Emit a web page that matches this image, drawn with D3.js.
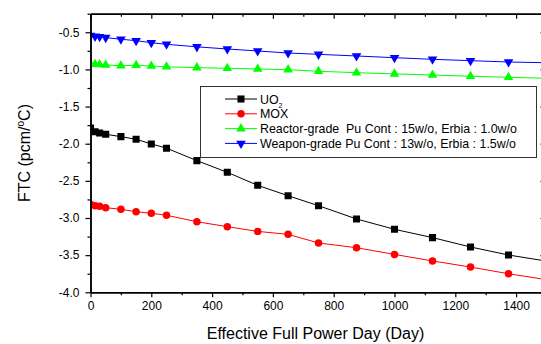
<!DOCTYPE html>
<html>
<head>
<meta charset="utf-8">
<script src="https://cdn.jsdelivr.net/npm/d3@7"></script>
<style>
  body { margin: 0; background: #fff; }
  svg text { font-family: Arial, "Liberation Sans", sans-serif; fill: #000; white-space: pre; }
</style>
</head>
<body>
<svg id="chart" width="541" height="344"></svg>
<script>
// burnup steps (EFPD)
var days = [0, 15, 30, 50, 100, 150, 200, 250, 350, 450, 550, 650, 750, 875, 1000, 1125, 1250, 1375, 1500];

var uo2 = [-1.79, -1.84, -1.855, -1.873, -1.905, -1.94, -2.003, -2.06, -2.228, -2.385, -2.56, -2.70,
           -2.834, -3.013, -3.152, -3.264, -3.39, -3.498, -3.58];
var mox = [-2.815, -2.834, -2.842, -2.861, -2.883, -2.915, -2.937, -2.963, -3.05, -3.117, -3.18, -3.22,
           -3.336, -3.40, -3.49, -3.578, -3.66, -3.75, -3.83];
var reactorGrade = [-0.93, -0.93, -0.935, -0.94, -0.95, -0.945, -0.955, -0.965, -0.976, -0.985, -0.994, -1.003,
                    -1.025, -1.044, -1.06, -1.075, -1.092, -1.106, -1.12];
var weaponGrade = [-0.545, -0.555, -0.56, -0.572, -0.594, -0.613, -0.64, -0.662, -0.696, -0.725, -0.752, -0.779,
                   -0.797, -0.819, -0.842, -0.864, -0.882, -0.90, -0.91];

var xTicks = [0, 200, 400, 600, 800, 1000, 1200, 1400];
var xMinor = [100, 300, 500, 700, 900, 1100, 1300, 1500];
var yTicks = [-0.5, -1.0, -1.5, -2.0, -2.5, -3.0, -3.5, -4.0];
var yMinor = [-0.25, -0.75, -1.25, -1.75, -2.25, -2.75, -3.25, -3.75];

var series = [
  { name: "UO2", values: uo2, color: "#000000", symbol: d3.symbolSquare, size: 50 },
  { name: "MOX", values: mox, color: "#ff0000", symbol: d3.symbolCircle, size: 44 },
  { name: "Reactor-grade  Pu Cont : 15w/o, Erbia : 1.0w/o", values: reactorGrade, color: "#00ff00", symbol: d3.symbolTriangle, size: 40, flip: false },
  { name: "Weapon-grade Pu Cont : 13w/o, Erbia : 1.5w/o", values: weaponGrade, color: "#0000ff", symbol: d3.symbolTriangle, size: 40, flip: true }
];

var svg = d3.select("#chart");

var pLeft = 90.5, pRight = 546.5, pTop = 13.7, pBottom = 292.3;

var x = d3.scaleLinear().domain([0, 1500]).range([pLeft, pRight]);
var y = d3.scaleLinear().domain([-4.0, -0.25]).range([pBottom, pTop]);

function fmtY(d) { return d.toFixed(1); }

// clip for plot area
svg.append("clipPath").attr("id", "plot")
  .append("rect").attr("x", pLeft).attr("y", pTop).attr("width", pRight - pLeft).attr("height", pBottom - pTop);

// series lines + markers
var line = d3.line()
  .x(function (d) { return x(d[0]); })
  .y(function (d) { return y(d[1]); });

series.forEach(function (s) {
  var pts = days.map(function (d, i) { return [d, s.values[i]]; });
  var g = svg.append("g").attr("clip-path", "url(#plot)");
  g.append("path")
    .attr("d", line(pts))
    .attr("fill", "none")
    .attr("stroke", s.color)
    .attr("stroke-width", 1);
  g.selectAll("path.mk").data(pts).enter()
    .append("path")
      .attr("class", "mk")
      .attr("d", d3.symbol().type(s.symbol).size(s.size))
      .attr("fill", s.color)
      .attr("transform", function (d) {
        return "translate(" + x(d[0]) + "," + y(d[1]) + ")" + (s.flip ? " rotate(180)" : "");
      });
});

// axes
function styleAxis(g) {
  g.select(".domain").attr("stroke", "#000").attr("stroke-width", 1.5);
  g.selectAll(".tick line").attr("stroke", "#000").attr("stroke-width", 1.2);
  g.selectAll(".tick text").attr("font-size", 12).attr("fill", "#000");
}

// bottom
svg.append("g").attr("transform", "translate(0," + pBottom + ")")
  .call(d3.axisBottom(x).tickValues(xTicks).tickSize(5).tickSizeOuter(0).tickPadding(4).tickFormat(d3.format("d")))
  .call(styleAxis);
svg.append("g").attr("transform", "translate(0," + pBottom + ")")
  .call(d3.axisBottom(x).tickValues(xMinor).tickSize(3).tickSizeOuter(0).tickFormat(""))
  .call(styleAxis);

// top (ticks inward)
svg.append("g").attr("transform", "translate(0," + pTop + ")")
  .call(d3.axisBottom(x).tickValues(xTicks).tickSize(5).tickSizeOuter(0).tickFormat(""))
  .call(styleAxis);
svg.append("g").attr("transform", "translate(0," + pTop + ")")
  .call(d3.axisBottom(x).tickValues(xMinor).tickSize(3).tickSizeOuter(0).tickFormat(""))
  .call(styleAxis);

// left
svg.append("g").attr("transform", "translate(" + pLeft + ",0)")
  .call(d3.axisLeft(y).tickValues(yTicks).tickSize(5).tickSizeOuter(0).tickPadding(6).tickFormat(fmtY))
  .call(styleAxis);
svg.append("g").attr("transform", "translate(" + pLeft + ",0)")
  .call(d3.axisLeft(y).tickValues(yMinor).tickSize(3).tickSizeOuter(0).tickFormat(""))
  .call(styleAxis);

// right (ticks inward)
svg.append("g").attr("transform", "translate(" + pRight + ",0)")
  .call(d3.axisLeft(y).tickValues(yTicks).tickSize(6).tickSizeOuter(0).tickFormat(""))
  .call(styleAxis);

// axis titles
svg.append("text")
  .attr("x", (pLeft + pRight) / 2 - 3)
  .attr("y", 339)
  .attr("text-anchor", "middle")
  .attr("font-size", 16)
  .text("Effective Full Power Day (Day)");

var yt = svg.append("text")
  .attr("transform", "translate(30," + (pBottom + pTop) / 2 + ") rotate(-90)")
  .attr("text-anchor", "middle")
  .attr("font-size", 16);
yt.append("tspan").text("FTC (pcm/");
yt.append("tspan").attr("font-size", 10).attr("dy", -6).text("o");
yt.append("tspan").attr("dy", 6).text("C)");

// legend
var lg = svg.append("g");
lg.append("rect")
  .attr("x", 200.5).attr("y", 86.5).attr("width", 336).attr("height", 71)
  .attr("fill", "#fff").attr("stroke", "#333").attr("stroke-width", 1);

series.forEach(function (s, i) {
  var ry = 99 + i * 14.8;
  lg.append("line")
    .attr("x1", 225).attr("x2", 257).attr("y1", ry).attr("y2", ry)
    .attr("stroke", s.color).attr("stroke-width", 1);
  lg.append("path")
    .attr("d", d3.symbol().type(s.symbol).size(s.size))
    .attr("fill", s.color)
    .attr("transform", "translate(241," + ry + ")" + (s.flip ? " rotate(180)" : ""));
  var t = lg.append("text")
    .attr("x", 260).attr("y", ry + 4.5)
    .attr("font-size", 12.4);
  if (i === 0) {
    t.append("tspan").text("UO");
    t.append("tspan").attr("font-size", 7).attr("dy", 4).text("2");
  } else {
    t.text(s.name);
  }
});
</script>
</body>
</html>
